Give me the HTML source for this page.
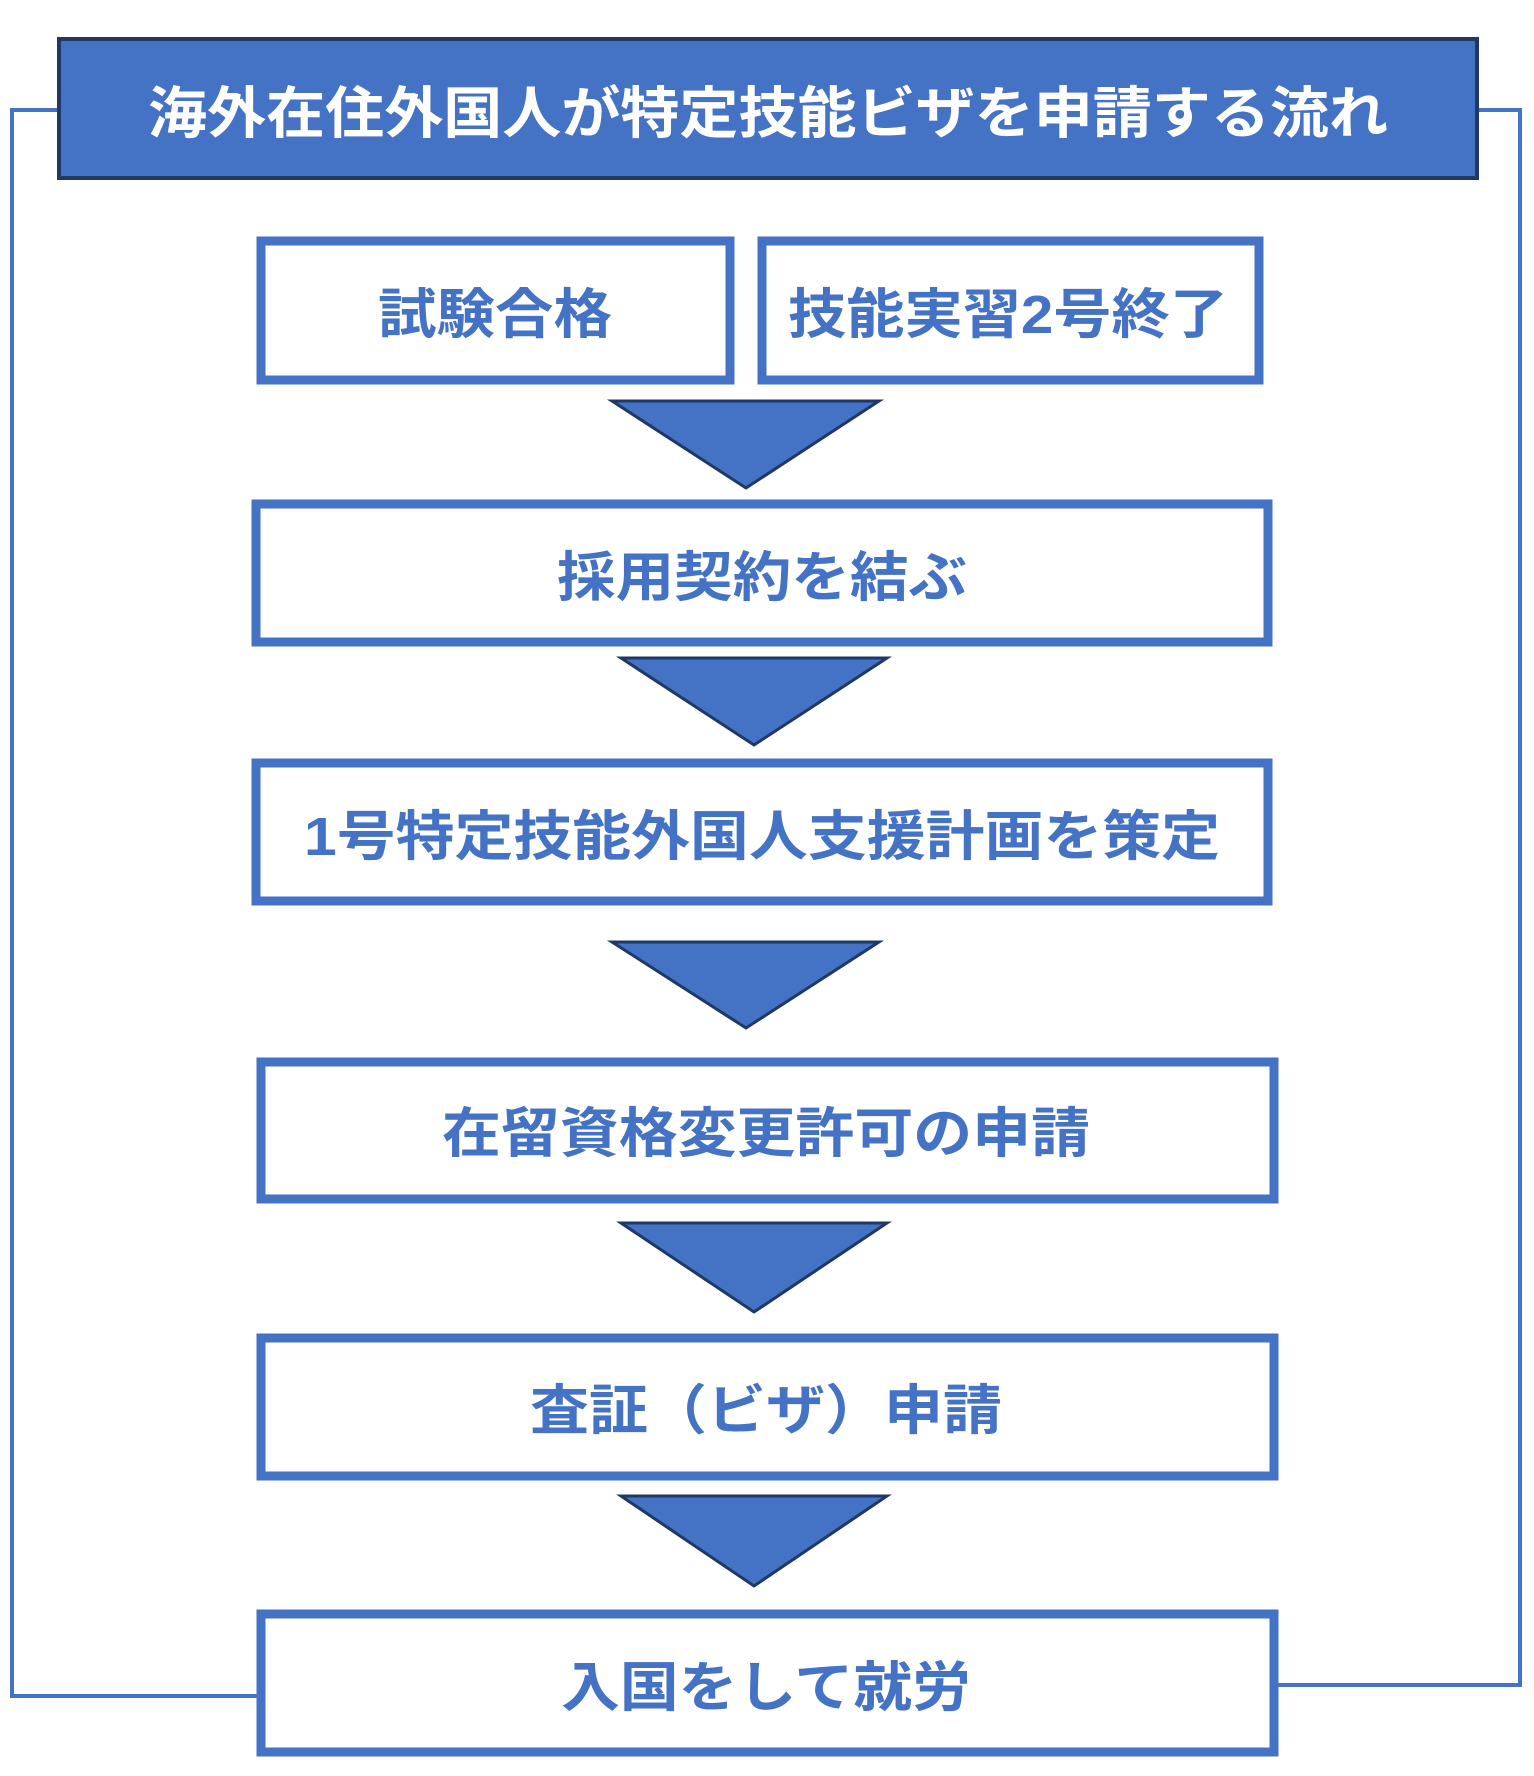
<!DOCTYPE html>
<html><head><meta charset="utf-8"><style>
html,body{margin:0;padding:0;background:#fff;}
svg{display:block;}
text{font-family:"Liberation Sans","Noto Sans CJK JP",sans-serif;font-weight:bold;}
</style></head><body>
<svg width="1534" height="1776" viewBox="0 0 1534 1776" xmlns="http://www.w3.org/2000/svg">
<g fill="none" stroke="#4472C4" stroke-width="4">
<polyline points="57,110 12,110 12,1696 257,1696"/>
<polyline points="1479,110 1520,110 1520,1685 1278,1685"/>
</g>
<rect x="59" y="39" width="1418" height="139" fill="#4472C4" stroke="#1F3864" stroke-width="4"/>
<text x="768" y="133" fill="#fff" font-size="56" text-anchor="middle" textLength="1240" lengthAdjust="spacingAndGlyphs">海外在住外国人が特定技能ビザを申請する流れ</text>
<g fill="#fff" stroke="#4472C4" stroke-width="9">
<rect x="261" y="241" width="469" height="139"/>
<rect x="762" y="241" width="497" height="139"/>
<rect x="256" y="504" width="1012" height="138"/>
<rect x="256" y="763" width="1012" height="138"/>
<rect x="261" y="1062" width="1013" height="137"/>
<rect x="261" y="1338" width="1013" height="138"/>
<rect x="261" y="1614" width="1013" height="138"/>
</g>
<g fill="#4472C4" stroke="#1F3864" stroke-width="3">
<polygon points="612,401 879,401 746,488"/>
<polygon points="621,658 887,658 754,745"/>
<polygon points="612,942 879,942 746,1028"/>
<polygon points="621,1223 887,1223 754,1312"/>
<polygon points="621,1496 887,1496 754,1586"/>
</g>
<g fill="#4472C4" font-size="54" text-anchor="middle">
<text x="495" y="333" textLength="234" lengthAdjust="spacingAndGlyphs">試験合格</text>
<text x="1008" y="333" textLength="440" lengthAdjust="spacingAndGlyphs">技能実習2号終了</text>
<text x="762" y="596" textLength="410" lengthAdjust="spacingAndGlyphs">採用契約を結ぶ</text>
<text x="762" y="855" textLength="916" lengthAdjust="spacingAndGlyphs">1号特定技能外国人支援計画を策定</text>
<text x="766" y="1152" textLength="648" lengthAdjust="spacingAndGlyphs">在留資格変更許可の申請</text>
<text x="766" y="1429" textLength="472" lengthAdjust="spacingAndGlyphs">査証（ビザ）申請</text>
<text x="766" y="1706" textLength="410" lengthAdjust="spacingAndGlyphs">入国をして就労</text>
</g>
</svg>
</body></html>
